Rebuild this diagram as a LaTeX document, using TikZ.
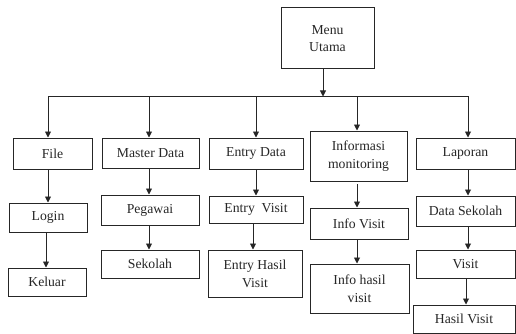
\documentclass[tikz,border=0pt]{standalone}
\usepackage{fontspec}
\setmainfont{Liberation Serif}
\usetikzlibrary{arrows.meta}
\begin{document}
\begin{tikzpicture}[x=1pt,y=-1pt,
  box/.style={draw=black!85,line width=1pt,rectangle,inner sep=0pt,align=center,
    font=\fontsize{13.7}{17.7}\selectfont,text=black!85},
  arr/.style={line width=0.9pt,draw=black!85,-{Triangle[length=6pt,width=6pt]}},
  bus/.style={line width=0.9pt,draw=black!85}]
\useasboundingbox (0,0) rectangle (516,334);
% top
\node[box,minimum width=93pt,minimum height=61pt] (menu) at (327.5,38.5) {Menu\\Utama};
% bus drop coordinates
\coordinate (c1) at (48,96.5);
\coordinate (c2) at (149,96.5);
\coordinate (c3) at (256,96.5);
\coordinate (c4) at (357,96.5);
\coordinate (c5) at (468,96.5);
\coordinate (cm) at (323,96.5);
\coordinate (x46) at (46,0);
\coordinate (x253) at (253,0);
\coordinate (x466) at (466,0);
\coordinate (i4) at (357,184);
% column 1
\node[box,minimum width=79pt,minimum height=31pt] (file) at (52.5,153.5) {File};
\node[box,minimum width=78pt,minimum height=29pt] (login) at (48,217.5) {Login};
\node[box,minimum width=78pt,minimum height=28pt] (keluar) at (47,282) {Keluar};
% column 2
\node[box,minimum width=97pt,minimum height=30pt] (master) at (150.5,153) {Master Data};
\node[box,minimum width=98pt,minimum height=30pt] (pegawai) at (150,210) {Pegawai};
\node[box,minimum width=98pt,minimum height=28pt] (sekolah) at (150,264) {Sekolah};
% column 3
\node[box,minimum width=94pt,minimum height=31pt] (entry) at (256,153.5) {Entry Data};
\node[box,minimum width=94pt,minimum height=27pt] (evisit) at (256,209.5) {Entry~~Visit};
\node[box,minimum width=94pt,minimum height=47pt] (ehasil) at (255,273.5) {Entry Hasil\\Visit};
% column 4
\node[box,minimum width=97pt,minimum height=50pt] (info) at (358.5,156) {Informasi\\monitoring};
\node[box,minimum width=98pt,minimum height=31pt] (ivisit) at (359,223.5) {Info Visit};
\node[box,minimum width=99pt,minimum height=49pt] (ihasil) at (359.5,288.5) {Info hasil\\visit};
% column 5
\node[box,minimum width=99pt,minimum height=31pt] (lapor) at (465.5,153.5) {Laporan};
\node[box,minimum width=99pt,minimum height=30pt] (dsek) at (465.5,211) {Data Sekolah};
\node[box,minimum width=99pt,minimum height=28pt] (visit) at (465.5,264) {Visit};
\node[box,minimum width=102pt,minimum height=28pt] (hvisit) at (464,319) {Hasil Visit};
% connectors
\draw[arr] (menu.south -| cm) -- (cm);
\draw[bus] (c1) -- (c5);
\draw[arr] (c1) -- (file.north -| c1);
\draw[arr] (c2) -- (master.north -| c2);
\draw[arr] (c3) -- (entry.north -| c3);
\draw[arr] (c4) -- (info.north -| c4);
\draw[arr] (c5) -- (lapor.north -| c5);
\draw[arr] (file.south -| c1) -- (login.north -| c1);
\draw[arr] (login.south -| x46) -- (keluar.north -| x46);
\draw[arr] (master.south -| c2) -- (pegawai.north -| c2);
\draw[arr] (pegawai.south -| c2) -- (sekolah.north -| c2);
\draw[arr] (entry.south -| c3) -- (evisit.north -| c3);
\draw[arr] (evisit.south -| x253) -- (ehasil.north -| x253);
\draw[arr] (i4) -- (ivisit.north -| i4);
\draw[arr] (ivisit.south -| c4) -- (ihasil.north -| c4);
\draw[arr] (lapor.south -| c5) -- (dsek.north -| c5);
\draw[arr] (dsek.south -| c5) -- (visit.north -| c5);
\draw[arr] (visit.south -| x466) -- (hvisit.north -| x466);
\end{tikzpicture}
\end{document}
